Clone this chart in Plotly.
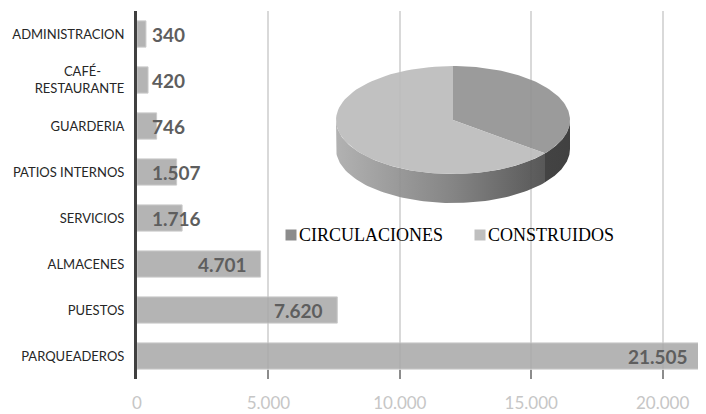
import numpy as np
import plotly.graph_objects as go

# ---------------- data ----------------
categories = ["ADMINISTRACION", "CAFÉ-RESTAURANTE", "GUARDERIA", "PATIOS INTERNOS",
              "SERVICIOS", "ALMACENES", "PUESTOS", "PARQUEADEROS"]
category_ticktext = ["ADMINISTRACION", "CAFÉ-" + "\u00a0" * 7 + "<br>RESTAURANTE", "GUARDERIA",
                     "PATIOS INTERNOS", "SERVICIOS", "ALMACENES", "PUESTOS", "PARQUEADEROS"]
values = [340, 420, 746, 1507, 1716, 4701, 7620, 21505]
value_labels = ["340", "420", "746", "1.507", "1.716", "4.701", "7.620", "21.505"]
x_tickvals = [0, 5000, 10000, 15000, 20000]
x_ticktext = ["0", "5.000", "10.000", "15.000", "20.000"]

pie_labels = ["CIRCULACIONES", "CONSTRUIDOS"]
pie_values = [35.6, 64.4]

# ---------------- styling ----------------
OFF = 8                      # default page (body) margin of the html page
W, H = 706 - OFF, 414 - OFF
ML, MR, MT, MB = 137 - OFF, 0, 11 - OFF, 35
XMAX = 21650
BAR_COLOR = "#a8a8a8"
LABEL_FONT = "Lato"

fig = go.Figure()

fig.add_trace(go.Bar(
    y=categories, x=values, orientation="h",
    marker=dict(color=BAR_COLOR, line=dict(color="#c2c2c2", width=1)),
    opacity=0.85, width=0.57, showlegend=False, hoverinfo="skip",
))

# data labels (inside end when they fit, otherwise next to the base)
px_per_unit = (W - ML - MR) / XMAX
annotations = []
for cat, v, lab in zip(categories, values, value_labels):
    est_w = (sum(1 for c in lab if c.isdigit()) * 0.58 + 0.25) * 19
    if v * px_per_unit > est_w + 20:
        annotations.append(dict(x=v, y=cat, xref="x", yref="y", text=lab,
                                xanchor="right", xshift=-12, showarrow=False,
                                font=dict(family=LABEL_FONT, size=19, color="#5e5e5e", weight="bold")))
    else:
        annotations.append(dict(x=0, y=cat, xref="x", yref="y", text=lab,
                                xanchor="left", xshift=13, showarrow=False,
                                font=dict(family=LABEL_FONT, size=19, color="#5e5e5e", weight="bold")))

# ---------------- 3D pie (computed from pie_values) ----------------
# geometry expressed in page pixels through the overlay axes x2/y2
cx, cy, rx, ry, depth = 453, 120, 117, 54, 29
total = sum(pie_values)

def arc(t0, t1, dy=0.0, n=80):
    t = np.radians(np.linspace(t0, t1, n))
    return list(cx + rx * np.cos(t)), list(cy - ry * np.sin(t) + dy)

top_colors = ["#939393", "#bcbcbc"]
side_scales = [
    [[0, "#4a4a4a"], [1, "#303030"]],
    [[0, "#ababab"], [0.5, "#7a7a7a"], [1, "#3c3c3c"]],
]
slices = []
start = 90.0
for v in pie_values:
    sweep = 360.0 * v / total
    slices.append((start - sweep, start))
    start -= sweep

# sides (front half only)
for (lo, hi), sc in zip(slices, side_scales):
    a, b = max(lo, -180.0), min(hi, 0.0)
    if a < b:
        x1, y1 = arc(b, a)
        x2, y2 = arc(a, b, dy=depth)
        xs = x1 + x2 + [x1[0]]
        ys = y1 + y2 + [y1[0]]
        fig.add_trace(go.Scatter(
            x=xs, y=ys, xaxis="x2", yaxis="y2", mode="lines", fill="toself",
            line=dict(width=0, color="rgba(0,0,0,0)"),
            fillgradient=dict(type="horizontal", colorscale=sc, start=cx - rx, stop=cx + rx),
            opacity=0.92, showlegend=False, hoverinfo="skip"))

# top faces
for (lo, hi), col, name in zip(slices, top_colors, pie_labels):
    xa, ya = arc(hi, lo)
    xs = [cx] + xa + [cx]
    ys = [cy] + ya + [cy]
    fig.add_trace(go.Scatter(
        x=xs, y=ys, xaxis="x2", yaxis="y2", mode="lines", fill="toself",
        fillcolor=col, line=dict(width=0, color=col), opacity=0.92,
        name=name, showlegend=False, hoverinfo="skip"))

# legend (custom, squares + serif text)
leg_y = 235
leg_items = [(291, pie_labels[0], "#8c8c8c"), (480, pie_labels[1], "#bfbfbf")]
for lx, name, col in leg_items:
    fig.add_trace(go.Scatter(
        x=[lx], y=[leg_y], xaxis="x2", yaxis="y2", mode="markers",
        marker=dict(symbol="square", size=11, color=col),
        showlegend=False, hoverinfo="skip"))
    annotations.append(dict(x=lx + 6, y=leg_y, xref="x2", yref="y2", text=name,
                            xanchor="left", yanchor="middle", showarrow=False,
                            font=dict(family="Liberation Serif", size=18, color="#000000")))

fig.update_layout(
    width=W, height=H,
    margin=dict(l=ML, r=MR, t=MT, b=MB, autoexpand=False),
    paper_bgcolor="white", plot_bgcolor="white",
    bargap=0.43,
    annotations=annotations,
    xaxis=dict(range=[0, XMAX], tickvals=x_tickvals, ticktext=x_ticktext,
               showgrid=True, gridcolor="#d9d9d9", gridwidth=1.5, zeroline=False,
               ticks="inside", ticklen=9, tickwidth=1.5, tickcolor="#8c8c8c",
               showline=False, automargin=False, ticklabelstandoff=12,
               tickfont=dict(family=LABEL_FONT, size=17, color="#c6c6c6")),
    yaxis=dict(categoryorder="array", categoryarray=categories, autorange="reversed",
               tickmode="array", tickvals=categories, ticktext=category_ticktext,
               showline=True, linecolor="#404040", linewidth=3, ticks="",
               showgrid=False, ticklabelstandoff=7, automargin=False,
               tickfont=dict(family=LABEL_FONT, size=13, color="#262626")),
    xaxis2=dict(overlaying="x", anchor="y2", range=[ML + OFF, W + OFF - MR],
                visible=False, fixedrange=True),
    yaxis2=dict(overlaying="y", anchor="x2", range=[H + OFF - MB, MT + OFF],
                visible=False, fixedrange=True),
)

fig.write_html("out.html")
